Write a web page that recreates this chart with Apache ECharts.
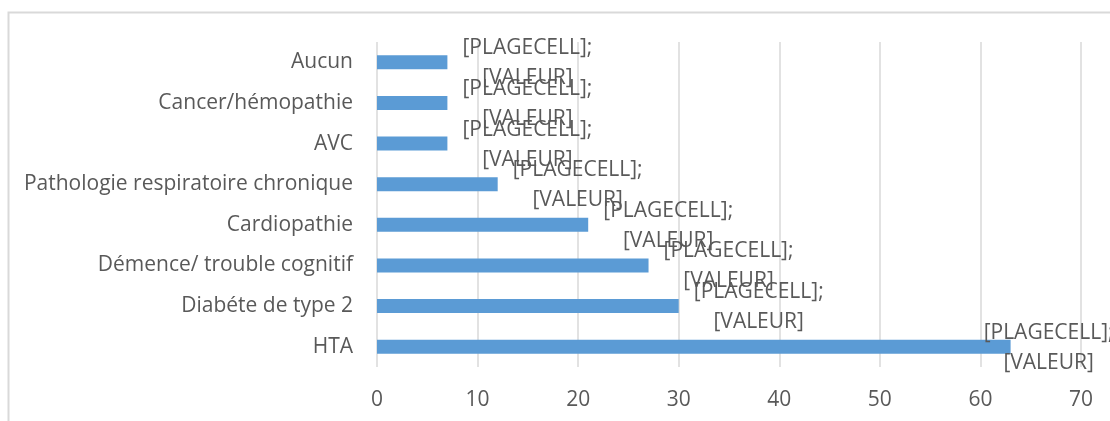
<!DOCTYPE html>
<html>
<head>
<meta charset="utf-8">
<script src="https://cdn.jsdelivr.net/npm/echarts@6/dist/echarts.min.js"></script>
<style>html,body{margin:0;padding:0;background:#fff;}#c{width:1110px;height:421px;}</style>
</head>
<body>
<div id="c"></div>
<script>
const categories = ["HTA", "Diabéte de type 2", "Démence/ trouble cognitif", "Cardiopathie", "Pathologie respiratoire chronique", "AVC", "Cancer/hémopathie", "Aucun"];
const values = [63, 30, 27, 21, 12, 7, 7, 7];
const xTicks = [0, 10, 20, 30, 40, 50, 60, 70];
const labelText = "[PLAGECELL];\n[VALEUR]";

const FONT = "Open Sans";
const TXT = "#595959";
const chart = echarts.init(document.getElementById('c'));
const seriesData = values.map((v, i) => ({
  value: v,
  label: { offset: [v > 60 ? 38 : 80, 1] }
}));
chart.setOption({
  animation: false,
  graphic: [{
    type: 'rect', shape: { x: 8.5, y: 12.5, width: 1200, height: 500 },
    style: { fill: 'none', stroke: '#d9d9d9', lineWidth: 2 }, z: -1
  }],
  grid: { left: 377, right: 29, top: 42, bottom: 54 },
  xAxis: {
    type: 'value', min: 0, max: 70, interval: 10,
    axisLine: { show: false }, axisTick: { show: false },
    splitLine: { lineStyle: { color: '#d9d9d9', width: 1.5 } },
    axisLabel: { color: TXT, fontFamily: FONT, fontSize: 21, margin: 23,
      formatter: v => xTicks.includes(v) ? String(v) : '' }
  },
  yAxis: {
    type: 'category', data: categories,
    axisLine: { show: false }, axisTick: { show: false },
    axisLabel: { color: TXT, fontFamily: FONT, fontSize: 21, margin: 24 }
  },
  series: [{
    type: 'bar', data: seriesData, barWidth: 14,
    itemStyle: { color: '#5b9bd5' },
    label: {
      show: true, formatter: labelText, position: ['100%', '50%'],
      align: 'center', verticalAlign: 'middle',
      color: TXT, fontFamily: FONT, fontSize: 21, lineHeight: 30
    }
  }]
});
</script>
</body>
</html>
